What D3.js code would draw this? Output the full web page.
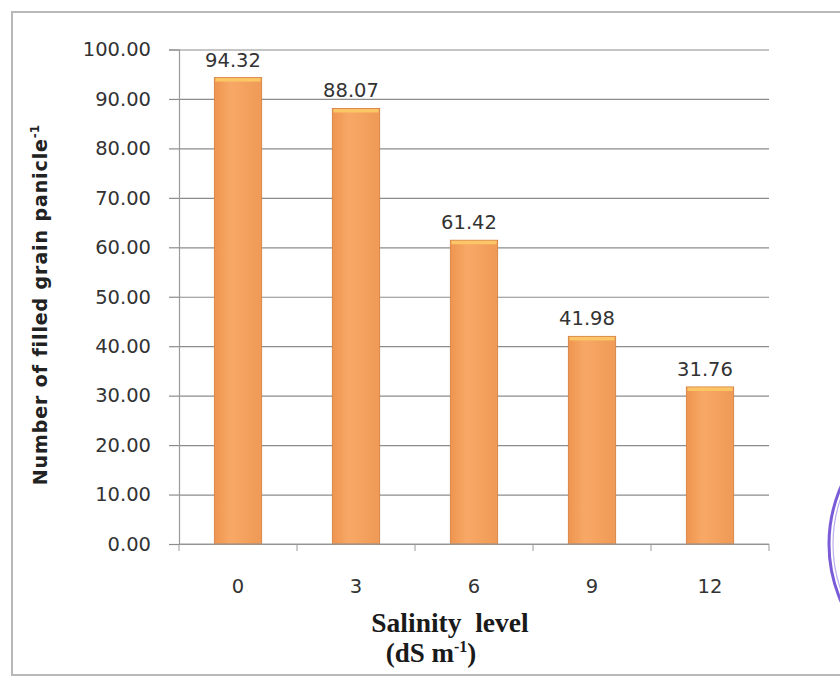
<!DOCTYPE html>
<html>
<head>
<meta charset="utf-8">
<script src="https://cdn.jsdelivr.net/npm/d3@7"></script>
<style>
  html, body { margin: 0; padding: 0; background: #fff; }
  svg { display: block; }
</style>
</head>
<body>
<svg id="chart" width="840" height="680"></svg>
<script>
// Filled grains per panicle at each salinity level
const salinityLevels = ["0", "3", "6", "9", "12"];
const filledGrains = [94.32, 88.07, 61.42, 41.98, 31.76];
const yTicks = [0, 10, 20, 30, 40, 50, 60, 70, 80, 90, 100];

const svg = d3.select("#chart");
const W = 840, H = 680;
const plot = { left: 179, right: 769, top: 49.5, bottom: 544 };
const sans = "'DejaVu Sans', Verdana, sans-serif";

// outer frame
svg.append("rect")
  .attr("x", 12).attr("y", 12)
  .attr("width", W + 10).attr("height", 663)
  .attr("fill", "none").attr("stroke", "#b8b8b8").attr("stroke-width", 2);

// partial purple seal at the right edge
const seal = svg.append("g").attr("fill", "none").attr("stroke", "#7a5cd8");
seal.append("circle").attr("cx", 972).attr("cy", 544).attr("r", 143).attr("stroke-width", 3);
seal.append("circle").attr("cx", 972).attr("cy", 544).attr("r", 139).attr("stroke-width", 1.2).attr("opacity", 0.5);

const x = d3.scaleBand().domain(salinityLevels).range([plot.left, plot.right]).paddingInner(0.6).paddingOuter(0.3);
const y = d3.scaleLinear().domain([0, 100]).range([plot.bottom, plot.top]);

// bar gradient: side shading
const defs = svg.append("defs");
const hg = defs.append("linearGradient").attr("id", "barSide").attr("x1", 0).attr("x2", 1).attr("y1", 0).attr("y2", 0);
hg.append("stop").attr("offset", "0%").attr("stop-color", "#ee9550");
hg.append("stop").attr("offset", "35%").attr("stop-color", "#f8a866");
hg.append("stop").attr("offset", "100%").attr("stop-color", "#ef9a56");

// gridlines
svg.append("g")
  .attr("transform", `translate(${plot.left},0)`)
  .call(d3.axisLeft(y).tickValues(yTicks).tickSize(-(plot.right - plot.left)).tickFormat(""))
  .call(g => g.select(".domain").remove())
  .call(g => g.selectAll("line").attr("stroke", "#8c8c8c").attr("stroke-width", 1.2));

// y axis
const yAxis = svg.append("g")
  .attr("transform", `translate(${plot.left},0)`)
  .call(d3.axisLeft(y).tickValues(yTicks).tickSize(10).tickPadding(18).tickFormat(d3.format(".2f")));
yAxis.select(".domain").attr("stroke", "#9a9a9a").attr("stroke-width", 1.2);
yAxis.selectAll("line").attr("stroke", "#8c8c8c").attr("stroke-width", 1.2);
yAxis.selectAll("text")
  .attr("font-family", sans)
  .attr("font-size", 19.5).attr("fill", "#333");

// bars
const bars = svg.append("g").selectAll("g").data(filledGrains).join("g");
bars.append("rect")
  .attr("x", (d, i) => x(salinityLevels[i]))
  .attr("y", d => y(d))
  .attr("width", x.bandwidth())
  .attr("height", d => y(0) - y(d))
  .attr("fill", "url(#barSide)")
  .attr("stroke", "#d9884a").attr("stroke-width", 1);
bars.append("rect")
  .attr("x", (d, i) => x(salinityLevels[i]) + 1)
  .attr("y", d => y(d) + 0.5)
  .attr("width", x.bandwidth() - 2)
  .attr("height", 3.5)
  .attr("fill", "#fbc766");

// value labels
bars.append("text")
  .attr("x", (d, i) => x(salinityLevels[i]) + x.bandwidth() / 2 - 5)
  .attr("y", d => y(d) - 11)
  .attr("text-anchor", "middle")
  .attr("font-family", sans)
  .attr("font-size", 19.5).attr("fill", "#333")
  .text(d => d.toFixed(2));

// x axis
const xEdges = d3.scaleLinear().domain([0, salinityLevels.length]).range([plot.left, plot.right]);
const xAxis = svg.append("g").attr("transform", `translate(0,${plot.bottom})`);
xAxis.append("line")
  .attr("x1", plot.left).attr("x2", plot.right)
  .attr("stroke", "#9a9a9a").attr("stroke-width", 1.2);
xAxis.selectAll("line.tick").data(d3.range(salinityLevels.length + 1)).join("line")
  .attr("class", "tick")
  .attr("x1", d => xEdges(d)).attr("x2", d => xEdges(d))
  .attr("y1", 0).attr("y2", 7)
  .attr("stroke", "#9a9a9a");
xAxis.selectAll("text").data(salinityLevels).join("text")
  .attr("x", d => x(d) + x.bandwidth() / 2)
  .attr("y", 49)
  .attr("text-anchor", "middle")
  .attr("font-family", sans)
  .attr("font-size", 19.5).attr("fill", "#333")
  .text(d => d);

// axis titles
svg.append("text")
  .attr("transform", "translate(47,305) rotate(-90)")
  .attr("text-anchor", "middle")
  .attr("font-family", sans)
  .attr("font-weight", "bold").attr("font-size", 19).attr("letter-spacing", 0.9)
  .attr("fill", "#222")
  .call(t => {
    t.append("tspan").text("Number of filled grain panicle");
    t.append("tspan").attr("dy", -8).attr("font-size", 12).attr("letter-spacing", 0).text("-1");
  });

const xt = svg.append("g")
  .attr("font-family", "'Liberation Serif', 'Times New Roman', serif")
  .attr("font-weight", "bold").attr("font-size", 27.5).attr("fill", "#1a1a1a")
  .attr("text-anchor", "middle");
xt.append("text").attr("x", 450).attr("y", 632).attr("xml:space", "preserve").text("Salinity  level");
xt.append("text").attr("x", 431).attr("y", 662).attr("font-size", 27)
  .call(t => {
    t.append("tspan").text("(dS m");
    t.append("tspan").attr("dy", -10).attr("font-size", 16).text("-1");
    t.append("tspan").attr("dy", 10).text(")");
  });
</script>
</body>
</html>
